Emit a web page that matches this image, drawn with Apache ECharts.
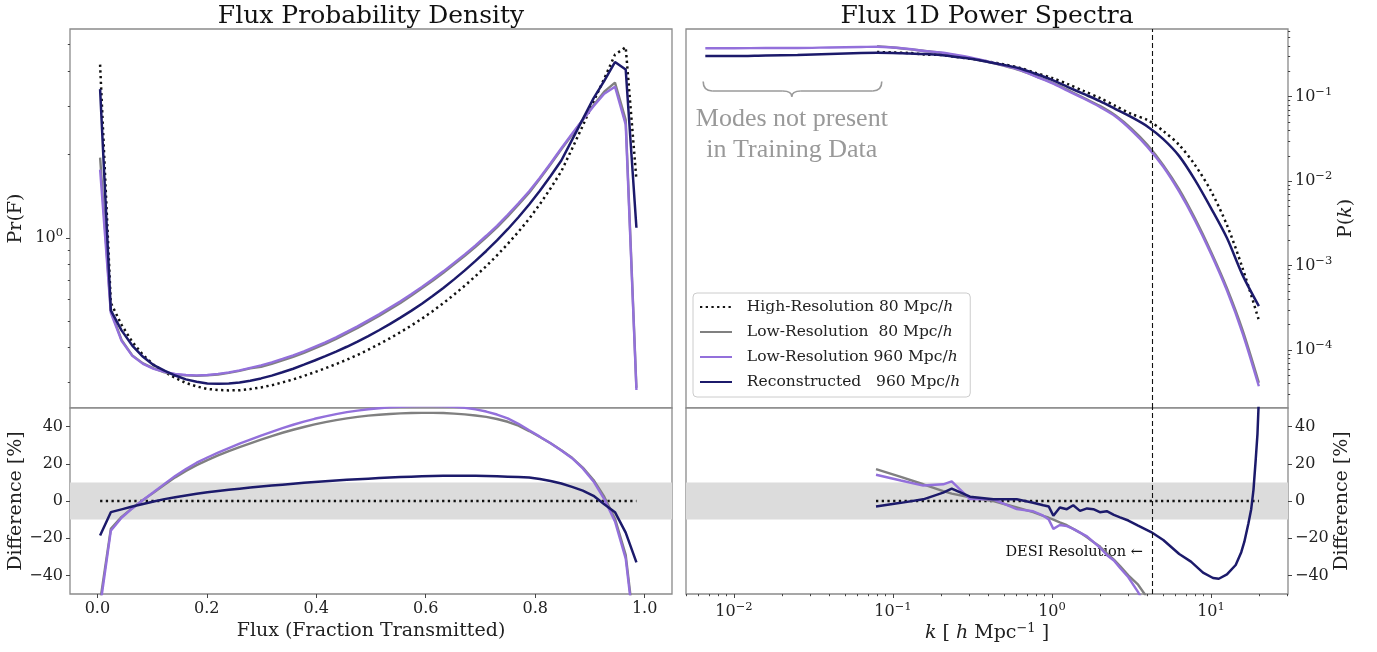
<!DOCTYPE html>
<html>
<head>
<meta charset="utf-8">
<script src="https://cdn.jsdelivr.net/npm/echarts@6/dist/echarts.min.js"></script>
<style>
  html, body { margin: 0; padding: 0; background: #fff; }
  #chart { width: 1377px; height: 652px; }
</style>
</head>
<body>
<div id="chart"></div>
<script>
const FONT = "'DejaVu Serif', serif";

// series names (legend)
const NAME_HR = "High-Resolution 80 Mpc/h";
const NAME_LR80 = "Low-Resolution  80 Mpc/h";
const NAME_LR960 = "Low-Resolution 960 Mpc/h";
const NAME_REC = "Reconstructed   960 Mpc/h";

// ---- flux PDF (left) ----
const flux = [0.005, 0.0246, 0.0442, 0.0638, 0.0834, 0.103, 0.1226, 0.1422, 0.1618, 0.1814, 0.201, 0.2206, 0.2402, 0.2598, 0.2794, 0.299, 0.3186, 0.3382, 0.3578, 0.3774, 0.397, 0.4166, 0.4362, 0.4558, 0.4754, 0.495, 0.5146, 0.5342, 0.5538, 0.5734, 0.593, 0.6126, 0.6322, 0.6518, 0.6714, 0.691, 0.7106, 0.7302, 0.7498, 0.7694, 0.789, 0.8086, 0.8282, 0.8478, 0.8674, 0.887, 0.9066, 0.9262, 0.9458, 0.9654, 0.985];
const pdfHighRes80 = [4.236, 0.5813, 0.484, 0.42, 0.3768, 0.3467, 0.3269, 0.311, 0.2983, 0.2897, 0.2837, 0.2813, 0.2802, 0.2806, 0.2833, 0.2873, 0.2926, 0.2995, 0.3071, 0.3162, 0.3262, 0.3372, 0.3489, 0.3619, 0.3768, 0.3934, 0.4119, 0.4323, 0.4553, 0.4807, 0.5095, 0.5425, 0.5799, 0.6225, 0.671, 0.7265, 0.7898, 0.8634, 0.9496, 1.051, 1.172, 1.323, 1.511, 1.741, 2.101, 2.546, 3.11, 3.768, 4.603, 4.899, 1.622];
const pdfLowRes80 = [1.95, 0.5439, 0.427, 0.3752, 0.351, 0.3366, 0.3256, 0.3201, 0.3175, 0.3162, 0.3175, 0.3201, 0.3243, 0.3297, 0.3366, 0.3409, 0.3496, 0.3598, 0.3705, 0.3831, 0.3977, 0.4129, 0.4306, 0.4508, 0.472, 0.4962, 0.5217, 0.5507, 0.5813, 0.6164, 0.6561, 0.6985, 0.7467, 0.8016, 0.8605, 0.9277, 1.004, 1.091, 1.196, 1.317, 1.455, 1.636, 1.846, 2.093, 2.361, 2.676, 3.02, 3.381, 3.644, 2.676, 0.2861];
const pdfLowRes960 = [1.764, 0.535, 0.4233, 0.3737, 0.3496, 0.3352, 0.3269, 0.3215, 0.3188, 0.3175, 0.3188, 0.3215, 0.3256, 0.3311, 0.3381, 0.3451, 0.3539, 0.3643, 0.3752, 0.3879, 0.4027, 0.4181, 0.436, 0.4564, 0.4779, 0.5024, 0.5282, 0.5577, 0.5887, 0.6241, 0.6643, 0.7075, 0.7561, 0.8116, 0.8713, 0.9393, 1.017, 1.105, 1.212, 1.334, 1.474, 1.65, 1.862, 2.11, 2.381, 2.676, 2.995, 3.325, 3.525, 2.567, 0.2813];
const pdfRecon960 = [3.452, 0.5464, 0.4622, 0.4074, 0.3708, 0.3457, 0.3302, 0.3172, 0.3072, 0.301, 0.297, 0.2965, 0.297, 0.2991, 0.3037, 0.3097, 0.3169, 0.3259, 0.3357, 0.3472, 0.3595, 0.3729, 0.3873, 0.4032, 0.4209, 0.4406, 0.4626, 0.4868, 0.514, 0.5437, 0.5773, 0.6155, 0.6585, 0.7072, 0.7623, 0.8249, 0.896, 0.9782, 1.074, 1.187, 1.32, 1.479, 1.674, 1.905, 2.261, 2.689, 3.197, 3.7, 4.327, 4.066, 1.087];

const diffHighRes80 = [0, 0, 0, 0, 0, 0, 0, 0, 0, 0, 0, 0, 0, 0, 0, 0, 0, 0, 0, 0, 0, 0, 0, 0, 0, 0, 0, 0, 0, 0, 0, 0, 0, 0, 0, 0, 0, 0, 0, 0, 0, 0, 0, 0, 0, 0, 0, 0, 0, 0, 0];
const diffLowRes80 = [-54, -15, -8.5, -3.8, 0.5, 4.5, 8.7, 12.7, 16.2, 19.3, 22, 24.5, 26.8, 29, 31, 33, 34.9, 36.7, 38.3, 39.8, 41.2, 42.4, 43.5, 44.4, 45.2, 45.9, 46.4, 46.8, 47.1, 47.3, 47.4, 47.4, 47.3, 47, 46.6, 46, 45.2, 44.1, 42.6, 40.5, 37.6, 34.4, 31, 27.3, 23.2, 18, 11.3, 2.3, -9.5, -29, -78];
const diffLowRes960 = [-57, -16, -9, -4, 0.5, 4.8, 9.2, 13.5, 17.2, 20.6, 23.4, 26, 28.4, 30.8, 33, 35.2, 37.2, 39.2, 41, 42.7, 44.2, 45.5, 46.7, 47.8, 48.6, 49.3, 49.9, 50.4, 50.7, 50.9, 51, 51, 50.9, 50.6, 50.1, 49.3, 48.1, 46.5, 44.4, 41.5, 38, 34.6, 31, 27.2, 23, 17.5, 10.5, 1, -11, -31, -80];
const diffRecon960 = [-18.5, -6, -4.5, -3, -1.6, -0.3, 1, 2, 3, 3.9, 4.7, 5.4, 6, 6.6, 7.2, 7.8, 8.3, 8.8, 9.3, 9.8, 10.2, 10.6, 11, 11.4, 11.7, 12, 12.3, 12.6, 12.9, 13.1, 13.3, 13.45, 13.55, 13.6, 13.6, 13.55, 13.45, 13.3, 13.1, 12.9, 12.6, 11.8, 10.8, 9.4, 7.6, 5.6, 2.8, -1.8, -6, -17, -33];

// ---- 1D power spectra (right) ----
const k960 = [0.0066, 0.01, 0.0158, 0.0251, 0.0398, 0.0631, 0.0794, 0.1, 0.126, 0.158, 0.2, 0.251, 0.316, 0.398, 0.501, 0.631, 0.794, 1.0, 1.26, 1.58, 2.0, 2.51, 3.16, 3.98, 5.01, 6.31, 7.94, 10.0, 12.6, 15.8, 20.0];
const k80 = [0.0794, 0.1, 0.126, 0.158, 0.2, 0.251, 0.316, 0.398, 0.501, 0.631, 0.794, 1.0, 1.26, 1.58, 2.0, 2.51, 3.16, 3.98, 5.01, 6.31, 7.94, 10.0, 12.6, 15.8, 20.0];
const p1dHighRes80 = [0.339, 0.334, 0.330, 0.316, 0.312, 0.295, 0.280, 0.261, 0.241, 0.219, 0.191, 0.167, 0.141, 0.117, 0.0966, 0.0777, 0.0624, 0.0530, 0.0393, 0.0268, 0.0155, 0.00764, 0.00302, 0.000933, 0.000226];
const p1dLowRes80 = [0.397, 0.383, 0.366, 0.348, 0.330, 0.305, 0.282, 0.258, 0.232, 0.205, 0.174, 0.147, 0.120, 0.097, 0.078, 0.060, 0.042, 0.027, 0.0155, 0.0080, 0.0036, 0.00146, 0.00054, 0.000172, 0.000041];
const p1dLowRes960 = [0.375, 0.375, 0.378, 0.378, 0.383, 0.388, 0.391, 0.383, 0.367, 0.348, 0.334, 0.312, 0.288, 0.261, 0.234, 0.207, 0.173, 0.145, 0.117, 0.0952, 0.0755, 0.0583, 0.0400, 0.0255, 0.0148, 0.0075, 0.0034, 0.00138, 0.000505, 0.000158, 0.0000373];
const p1dRecon960 = [0.303, 0.303, 0.308, 0.312, 0.321, 0.330, 0.332, 0.330, 0.325, 0.321, 0.312, 0.295, 0.280, 0.258, 0.238, 0.216, 0.186, 0.158, 0.130, 0.108, 0.0889, 0.0715, 0.0574, 0.0445, 0.0315, 0.0198, 0.0103, 0.0048, 0.00212, 0.000771, 0.000331];

const kDiff = [0.0782, 0.112, 0.155, 0.207, 0.234, 0.305, 0.428, 0.600, 0.762, 0.881, 0.955, 1.02, 1.12, 1.24, 1.36, 1.50, 1.66, 1.82, 2.0, 2.21, 2.45, 2.68, 3.02, 3.48, 4.20, 5.01, 6.31, 7.48, 8.91, 10.3, 11.2, 12.6, 14.3, 15.5, 16.2, 17.2, 17.9, 18.5, 19.1, 19.6, 20.0];
const kDiffHighRes80 = [0, 0, 0, 0, 0, 0, 0, 0, 0, 0, 0, 0, 0, 0, 0, 0, 0, 0, 0, 0, 0, 0, 0, 0, 0, 0, 0, 0, 0, 0, 0, 0, 0, 0, 0, 0, 0, 0, 0, 0, 0];
const kDiffLowRes80 = [17.1, 13, 9, 5.3, 4, 2, 0, -3.5, -6, -8, -9, -10, -11.5, -13, -15, -17, -19.5, -22, -24.5, -28, -31.5, -35, -40, -45, -55, -63, -71, -76, -80, -82, -83, -84, -84, -84, -84, -83, -83, -82, -82, -82, -82];
const kDiffLowRes960 = [14.1, 11, 8.3, 9, 10.6, 1, 0.9, -4.4, -5.5, -7.9, -10, -15, -12.9, -13.5, -15, -17, -19, -22, -25, -29, -32, -36, -41, -49, -62, -68, -75, -79, -82, -84, -85, -86, -86, -86, -86, -85, -85, -84, -84, -84, -84];
const kDiffRecon960 = [-3, -1, 0.9, 4.5, 6.7, 2.3, 0.9, 0.9, -0.9, -2.3, -3, -7.9, -3.5, -4.4, -2.3, -5.3, -4, -4.4, -6, -5.5, -7.5, -8.8, -10.5, -13.2, -16.7, -21, -28.5, -32.6, -38.5, -41.4, -41.8, -39.5, -34.4, -27.5, -22, -12, -4.4, 6, 22, 36, 55];

// axes ranges and ticks
const fluxRange = [-0.05, 1.05];
const pdfRange = [0.242, 5.7];
const kRange = [0.00499, 30.5];
const pkRange = [2.06e-5, 0.634];
const diffRange = [-50, 50];
const fluxTicks = [0, 0.2, 0.4, 0.6, 0.8, 1.0];
const diffTicks = [-40, -20, 0, 20, 40];
const pdfTicks = [1];
const kTicks = [0.01, 0.1, 1, 10];
const pkTicks = [1e-4, 1e-3, 1e-2, 1e-1];
const desiK = 4.25;

const C_HR = "#111111", C_LR80 = "#808080", C_LR960 = "#9370db", C_REC = "#1c1a6b";

const tickLine = { color: "#444", width: 1 };
const labelColor = "#222";
const nameStyle = {
  fontFamily: FONT, fontSize: 19, color: labelColor,
  rich: {
    i: { fontFamily: FONT, fontSize: 19, fontStyle: "italic", color: labelColor },
    s: { fontFamily: FONT, fontSize: 13, color: labelColor, verticalAlign: "top", padding: [0, 0, 10, 0] }
  }
};
const powRich = {
  b: { fontFamily: FONT, fontSize: 16, color: labelColor },
  s: { fontFamily: FONT, fontSize: 11.5, color: labelColor, verticalAlign: "top", padding: [0, 0, 10, 0] }
};
function powLabel(v) {
  const e = Math.round(v);
  return "{b|10}{s|" + (e < 0 ? "\u2212" + (-e) : e) + "}";
}
function minorTicks(range) {
  const out = [];
  for (let d = Math.floor(Math.log10(range[0])); d <= Math.ceil(Math.log10(range[1])); d++) {
    for (let m = 2; m <= 9; m++) {
      const v = m * Math.pow(10, d);
      if (v > range[0] && v < range[1]) out.push(Math.log10(v));
    }
  }
  return out;
}
const noLine = { show: false, onZero: false };
function logOverlay(gridIndex, range, ticks, position, extra) {
  const lo = Math.log10(range[0]), hi = Math.log10(range[1]);
  const major = Object.assign({
    type: "value", gridIndex, position, min: lo, max: hi,
    axisLine: noLine, splitLine: { show: false },
    axisTick: { show: true, customValues: ticks.map(Math.log10), length: 4, lineStyle: tickLine },
    axisLabel: { customValues: ticks.map(Math.log10), formatter: powLabel, rich: powRich, margin: 7 },
    nameLocation: "middle", nameTextStyle: nameStyle
  }, extra || {});
  const minor = {
    type: "value", gridIndex, position, min: lo, max: hi,
    axisLine: noLine, splitLine: { show: false }, axisLabel: { show: false },
    axisTick: { show: true, customValues: minorTicks(range), length: 2.2, lineStyle: tickLine }
  };
  return [major, minor];
}
function linAxis(gridIndex, range, ticks, position, fmt, extra) {
  return Object.assign({
    type: "value", gridIndex, position, min: range[0], max: range[1],
    axisLine: noLine, splitLine: { show: false },
    axisTick: { show: true, customValues: ticks, length: 4, lineStyle: tickLine },
    axisLabel: { customValues: ticks, formatter: fmt, fontFamily: FONT, fontSize: 16, color: labelColor, margin: 7 },
    nameLocation: "middle", nameTextStyle: nameStyle
  }, extra || {});
}
const diffFmt = v => String(v).replace("-", "\u2212");

const gridBase = { show: true, borderColor: "#8a8a8a", borderWidth: 1.3, backgroundColor: "#fff", outerBoundsMode: "none", containLabel: false };

const [pdfMajor, pdfMinor] = logOverlay(0, pdfRange, pdfTicks, "left", { name: "Pr(F)", nameGap: 44, nameRotate: 90 });
const [kMajor, kMinor] = logOverlay(3, kRange, kTicks, "bottom", { name: "{i|k} [ {i|h} Mpc{s|\u22121} ]", nameGap: 28 });
const [pkMajor, pkMinor] = logOverlay(2, pkRange, pkTicks, "right", { name: "P({i|k})", nameGap: 46, nameRotate: 90 });

const hidden = { show: false, axisLine: noLine };
const xAxes = [
  Object.assign({ type: "value", gridIndex: 0, min: fluxRange[0], max: fluxRange[1] }, hidden),
  linAxis(1, fluxRange, fluxTicks, "bottom", v => v.toFixed(1), { name: "Flux (Fraction Transmitted)", nameGap: 28 }),
  Object.assign({ type: "log", gridIndex: 2, min: kRange[0], max: kRange[1] }, hidden),
  Object.assign({ type: "log", gridIndex: 3, min: kRange[0], max: kRange[1] }, hidden),
  kMajor, kMinor
];
const yAxes = [
  Object.assign({ type: "log", gridIndex: 0, min: pdfRange[0], max: pdfRange[1] }, hidden),
  pdfMajor, pdfMinor,
  linAxis(1, diffRange, diffTicks, "left", diffFmt, { name: "Difference [%]", nameGap: 43, nameRotate: 90 }),
  Object.assign({ type: "log", gridIndex: 2, min: pkRange[0], max: pkRange[1] }, hidden),
  pkMajor, pkMinor,
  linAxis(3, diffRange, diffTicks, "right", diffFmt, { name: "Difference [%]", nameGap: 40, nameRotate: 90 })
];

const styles = {
  [NAME_HR]: { color: C_HR, width: 2.5, type: [2.3, 3.4] },
  [NAME_LR80]: { color: C_LR80, width: 2.4 },
  [NAME_LR960]: { color: C_LR960, width: 2.4 },
  [NAME_REC]: { color: C_REC, width: 2.5 }
};
function line(name, xs, ys, xi, yi, extra) {
  return Object.assign({
    type: "line", name, xAxisIndex: xi, yAxisIndex: yi,
    data: xs.map((x, i) => [x, ys[i]]),
    symbol: "none", showSymbol: false, silent: true, animation: false, clip: true,
    color: styles[name].color,
    lineStyle: styles[name]
  }, extra || {});
}
const band = { silent: true, itemStyle: { color: "#dcdcdc" }, data: [[{ yAxis: -10 }, { yAxis: 10 }]] };
const desiLine = {
  silent: true, symbol: "none", animation: false, label: { show: false },
  lineStyle: { color: "#111", width: 1.1, type: [5, 3] },
  data: [{ xAxis: desiK }]
};
const smoothTR = { smooth: 0.3 };

const series = [
  line(NAME_HR, flux, pdfHighRes80, 0, 0),
  line(NAME_LR80, flux, pdfLowRes80, 0, 0),
  line(NAME_LR960, flux, pdfLowRes960, 0, 0),
  line(NAME_REC, flux, pdfRecon960, 0, 0),

  line(NAME_HR, flux, diffHighRes80, 1, 3, { markArea: band }),
  line(NAME_LR80, flux, diffLowRes80, 1, 3),
  line(NAME_LR960, flux, diffLowRes960, 1, 3),
  line(NAME_REC, flux, diffRecon960, 1, 3),

  line(NAME_HR, k80, p1dHighRes80, 2, 4, Object.assign({ markLine: desiLine }, smoothTR)),
  line(NAME_LR80, k80, p1dLowRes80, 2, 4, smoothTR),
  line(NAME_LR960, k960, p1dLowRes960, 2, 4, smoothTR),
  line(NAME_REC, k960, p1dRecon960, 2, 4, smoothTR),

  line(NAME_HR, kDiff, kDiffHighRes80, 3, 7, { markArea: band, markLine: desiLine }),
  line(NAME_LR80, kDiff, kDiffLowRes80, 3, 7),
  line(NAME_LR960, kDiff, kDiffLowRes960, 3, 7),
  line(NAME_REC, kDiff, kDiffRecon960, 3, 7)
];

const chart = echarts.init(document.getElementById("chart"), null, { renderer: "canvas" });
chart.setOption({
  animation: false,
  backgroundColor: "#fff",
  textStyle: { fontFamily: FONT },
  grid: [
    Object.assign({ left: 70, top: 29, width: 602, height: 379 }, gridBase),
    Object.assign({ left: 70, top: 408, width: 602, height: 186 }, gridBase),
    Object.assign({ left: 686, top: 29, width: 602, height: 379 }, gridBase),
    Object.assign({ left: 686, top: 408, width: 602, height: 186 }, gridBase)
  ],
  xAxis: xAxes,
  yAxis: yAxes,
  legend: {
    left: 693, top: 293, orient: "vertical",
    padding: [6, 10, 7, 6], itemWidth: 32, itemHeight: 14, itemGap: 9,
    borderColor: "#cccccc", borderWidth: 1, borderRadius: 4,
    backgroundColor: "rgba(255,255,255,0.85)", selectedMode: false,
    itemStyle: { opacity: 0, color: "rgba(0,0,0,0)", borderWidth: 0 },
    data: [NAME_HR, NAME_LR80, NAME_LR960, NAME_REC],
    formatter: n => "  " + n.replace(/h$/, "{i|h}"),
    textStyle: {
      fontFamily: FONT, fontSize: 15.5, color: labelColor,
      rich: { i: { fontFamily: FONT, fontSize: 15.5, fontStyle: "italic", color: labelColor } }
    }
  },
  series
});

// annotations placed through the axes
const px = (si, pt) => chart.convertToPixel({ seriesIndex: si }, pt);
const braceK = [0.0064, 0.0231, 0.085];
const braceP = [0.151, 0.117, 0.1];
const bl = px(8, [braceK[0], braceP[0]]), bm = px(8, [braceK[1], braceP[1]]);
const bc = px(8, [braceK[1], braceP[2]]), br = px(8, [braceK[2], braceP[0]]);
const r = 9;
const braceStyle = { stroke: "#9a9a9a", lineWidth: 1.6, fill: null };
const desiPt = px(12, [desiK, -27.7]);
const modesPt = px(8, [braceK[1], 0.036]);

chart.setOption({
  graphic: [
    { type: "text", x: 371, y: 16, style: { text: "Flux Probability Density", fontFamily: FONT, fontSize: 25, fill: "#111", align: "center", verticalAlign: "middle" } },
    { type: "text", x: 987, y: 16, style: { text: "Flux 1D Power Spectra", fontFamily: FONT, fontSize: 25, fill: "#111", align: "center", verticalAlign: "middle" } },
    { type: "bezierCurve", shape: { x1: bl[0], y1: bl[1], cpx1: bl[0], cpy1: bm[1], x2: bl[0] + r, y2: bm[1] }, style: braceStyle },
    { type: "line", shape: { x1: bl[0] + r, y1: bm[1], x2: bm[0] - r, y2: bm[1] }, style: braceStyle },
    { type: "bezierCurve", shape: { x1: bm[0] - r, y1: bm[1], cpx1: bm[0], cpy1: bm[1], x2: bc[0], y2: bc[1] }, style: braceStyle },
    { type: "bezierCurve", shape: { x1: bc[0], y1: bc[1], cpx1: bm[0], cpy1: bm[1], x2: bm[0] + r, y2: bm[1] }, style: braceStyle },
    { type: "line", shape: { x1: bm[0] + r, y1: bm[1], x2: br[0] - r, y2: bm[1] }, style: braceStyle },
    { type: "bezierCurve", shape: { x1: br[0] - r, y1: bm[1], cpx1: br[0], cpy1: bm[1], x2: br[0], y2: br[1] }, style: braceStyle },
    { type: "text", x: modesPt[0], y: modesPt[1], style: { text: "Modes not present\nin Training Data", fontFamily: "'Liberation Serif', serif", fontSize: 26, lineHeight: 31, fill: "#999", align: "center", verticalAlign: "middle" } },
    { type: "text", x: desiPt[0] - 9, y: desiPt[1], style: { text: "DESI Resolution \u2190", fontFamily: FONT, fontSize: 14.5, fill: "#111", align: "right", verticalAlign: "middle" } }
  ]
});
</script>
</body>
</html>
